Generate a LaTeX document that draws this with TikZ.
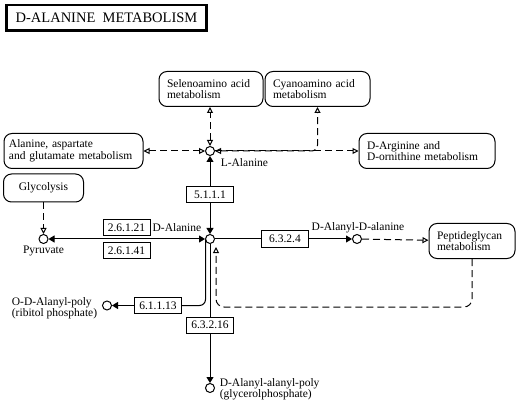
\documentclass[tikz,border=0pt]{standalone}
\usepackage{fontspec}
\setmainfont{Liberation Serif}
\usetikzlibrary{arrows.meta, positioning}
\tikzset{
  oa/.tip={Triangle[open,length=6pt,width=6pt]},
  fa/.tip={Triangle[length=6pt,width=7pt]},
  mapbox/.style={draw, rounded corners=8pt, align=left, inner xsep=8pt, inner ysep=0pt, minimum height=35pt},
  enzyme/.style={draw, minimum width=47pt, minimum height=16pt, inner sep=1pt},
  cpd/.style={draw, circle, fill=white, minimum size=9pt, inner sep=0pt},
  link/.style={dash pattern=on 7pt off 4pt},
}
\begin{document}
\begin{tikzpicture}[x=1pt, y=-1pt, line width=1pt, font=\fontsize{11.5}{11.5}\selectfont]
          \useasboundingbox (0,0) rectangle (522,406);
          \node[draw, line width=2.5pt, minimum width=200pt, minimum height=25.5pt, font=\fontsize{14.5}{14.5}\selectfont] (title) at (106.5,18) {D-ALANINE\ \ METABOLISM};

          \node[mapbox, text width=88pt] (seleno) at (211,89) {Selenoamino acid\\metabolism};
          \node[mapbox, text width=89pt] (cyano) at (317.5,89) {Cyanoamino acid\\metabolism};
          \node[mapbox, inner xsep=5pt, text width=129pt] (alaasp) at (73.5,151) {Alanine, aspartate\\and glutamate metabolism};
          \node[mapbox, text width=120pt] (darg) at (427,151) {D-Arginine and\\D-ornithine metabolism};
          \node[mapbox, align=center, text width=64pt, minimum height=28pt] (glyc) at (43.5,188) {Glycolysis};
          \node[mapbox, text width=70pt] (pept) at (472,241) {Peptideglycan\\metabolism};

          \node[cpd] (lala) at (210,151) {};
          \node[cpd] (dala) at (210,239) {};
          \node[cpd] (pyr) at (43.5,239) {};
          \node[cpd] (dada) at (357,239) {};
          \node[cpd] (odap) at (107,305.5) {};
          \node[cpd] (daap) at (210,388) {};

          \node[anchor=west] (lalatxt) at (217,163) {L-Alanine};
          \node[anchor=east] (dalatxt) at (205,228) {D-Alanine};
          \node[] (pyrtxt) at (43.5,250.5) {Pyruvate};
          \node[] (dadatxt) at (358,228) {D-Alanyl-D-alanine};
          \node[anchor=east, align=left] (odaptxt) at (101,308) {O-D-Alanyl-poly\\(ribitol phosphate)};
          \node[anchor=west, align=left] (daaptxt) at (216,389) {D-Alanyl-alanyl-poly\\(glycerolphosphate)};

          \node[enzyme] (e5111) at (210,195) {5.1.1.1};
          \node[enzyme] (e26121) at (126.5,227.5) {2.6.1.21};
          \node[enzyme] (e26141) at (126.5,250.5) {2.6.1.41};
          \node[enzyme] (e6324) at (285,239) {6.3.2.4};
          \node[enzyme] (e611113) at (158,305.5) {6.1.1.13};
          \node[enzyme] (e63216) at (210,325) {6.3.2.16};

          \coordinate (dalaw) at (205.5,239.5);
          \coordinate (dalain) at (216,247);
          \coordinate (turn) at (216,307);

          \draw[-fa] (e5111) -- (lala);
          \draw[-fa] (e5111) -- (dala);
          \draw[fa-fa] (pyr) -- (dala);
          \draw (dala) -- (e6324);
          \draw[-fa] (e6324) -- (dada);
          \draw[rounded corners=6pt] (dalaw) |- (e611113);
          \draw[-fa] (e611113) -- (odap);
          \draw (dala) -- (e63216);
          \draw[-fa] (e63216) -- (daap);

          \draw[link, -oa] (dada) -- (pept);
          \draw[link, -oa, rounded corners=8pt] (pept) |- (turn) -- (dalain);
          \draw[link, -oa] (glyc) -- (pyr);
          \draw[link, oa-oa] (alaasp) -- (lala);
          \draw[link, oa-oa] (lala) -- (lala |- seleno.south);
          \draw[link, oa-oa, rounded corners=6pt] (lala) -| (cyano);
          \draw[link, -oa] (lala) -- (darg);
    \end{tikzpicture}
\end{document}
